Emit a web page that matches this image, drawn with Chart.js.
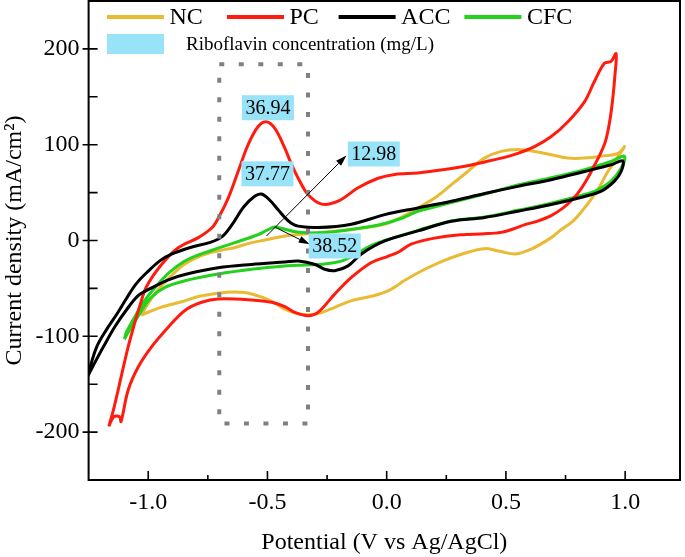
<!DOCTYPE html>
<html>
<head>
<meta charset="utf-8">
<title>CV curves</title>
<script src="https://cdn.jsdelivr.net/npm/chart.js@4.4.1/dist/chart.umd.min.js"></script>
<style>
  html, body { margin: 0; padding: 0; background: #fff; }
  #wrap { width: 685px; height: 557px; }
</style>
</head>
<body>
<div id="wrap"><canvas id="cv"></canvas></div>
<script>
// Cyclic voltammograms, potential (V vs Ag/AgCl) vs current density (mA/cm2).
// Each loop: anodic branch left->right, then the return branch right->left.

const seriesNames = ['NC', 'PC', 'ACC', 'CFC'];
const seriesColors = ['#E9BA33', '#FF1C0E', '#000000', '#24D11C'];

const ncV = [-1.03, -0.98, -0.94, -0.90, -0.85, -0.78, -0.71, -0.64, -0.57, -0.50,
  -0.43, -0.36, -0.29, -0.15, -0.01, 0.06, 0.13, 0.20, 0.27, 0.34,
  0.41, 0.48, 0.55, 0.62, 0.69, 0.76, 0.83, 0.90, 0.97, 0.997,
  0.955, 0.925, 0.89, 0.86, 0.82, 0.78, 0.73, 0.69, 0.61, 0.54,
  0.47, 0.41, 0.33, 0.24, 0.16, 0.08, 0.01, -0.06, -0.15, -0.22,
  -0.29, -0.36, -0.43, -0.47, -0.52, -0.59, -0.67, -0.78, -0.86, -0.95, -1.03];
const ncI = [-78, -58, -46, -36, -25, -16, -11, -7.5, -2.5, 1,
  4.5, 6.5, 8, 11.5, 17, 24, 34, 44, 58, 72,
  86, 93, 95, 93, 89.5, 86, 86, 88, 91, 98,
  82, 71, 55, 44, 31, 20, 11, 3, -8.5, -14,
  -11, -8.5, -13, -21, -30, -41, -52, -58, -63, -70,
  -76.5, -77, -71.5, -65, -59.5, -54.5, -54, -58, -64, -70, -78];

const pcV = [-1.165, -1.145, -1.126, -1.105, -1.084, -1.06, -1.035, -1.007, -0.944, -0.874,
  -0.79, -0.734, -0.707, -0.665, -0.623, -0.581, -0.539, -0.504, -0.469, -0.43,
  -0.40, -0.371, -0.33, -0.273, -0.204, -0.12, -0.036, 0.034, 0.131, 0.243,
  0.327, 0.411, 0.481, 0.55, 0.62, 0.69, 0.76, 0.83, 0.871, 0.913,
  0.941, 0.962,
  0.957, 0.948, 0.935, 0.918, 0.895, 0.87, 0.845, 0.815, 0.78, 0.74,
  0.69, 0.63, 0.58, 0.53, 0.48, 0.41, 0.31, 0.20, 0.10, 0.05,
  0.0, -0.064, -0.148, -0.218, -0.288, -0.33, -0.385, -0.427, -0.483, -0.567,
  -0.707, -0.776, -0.846, -0.916, -0.986, -1.042, -1.084, -1.114, -1.12, -1.145, -1.165];
const pcI = [-194, -176, -156, -133, -111, -89, -68, -48, -25, -7.5,
  3, 13, 23, 44, 72, 100, 119, 124, 117, 98,
  80, 65, 48, 38, 41, 55, 65, 69, 70.5, 74,
  77.5, 82, 86, 91, 98, 108.5, 124, 145, 166, 185,
  187, 195,
  172, 148, 124, 104, 90, 78, 66, 54, 43, 34,
  26, 20, 16.5, 12, 8.5, 7, 6, 2.5, -4, -12,
  -17, -23, -38.6, -56, -75, -78.5, -75, -69, -64.5, -62,
  -61, -64.5, -73, -90.5, -111, -132, -156, -189, -184, -184, -194];

const accV = [-1.28, -1.25, -1.216, -1.175, -1.132, -1.09, -1.05, -1.00, -0.95, -0.90,
  -0.82, -0.74, -0.69, -0.65, -0.60, -0.555, -0.525, -0.49, -0.455, -0.427,
  -0.40, -0.371, -0.288, -0.148, -0.008, 0.131, 0.271, 0.411, 0.55, 0.69,
  0.83, 0.941, 0.99,
  0.983, 0.955, 0.90, 0.83, 0.69, 0.55, 0.411, 0.271, 0.131, -0.008,
  -0.106, -0.162, -0.218, -0.26, -0.30, -0.37, -0.427, -0.567, -0.707, -0.846,
  -0.916, -0.986, -1.04, -1.09, -1.14, -1.188, -1.225, -1.26, -1.28];
const accI = [-158, -137, -111, -93, -77, -60, -45, -32, -21, -14,
  -7, -2, 4, 16, 35, 46, 48.5, 42, 32, 24,
  18, 15, 13.5, 17, 27, 34, 41, 49, 56.5, 63.5,
  72, 79, 83,
  72, 62, 51.5, 46, 37.6, 30.6, 24, 20, 10, -0.5,
  -14, -26.5, -31.5, -30, -25, -21.5, -22.5, -25, -28.5, -35.5,
  -41, -49.5, -57, -72, -90, -111, -128, -145, -158];

const cfcV = [-1.10, -1.09, -1.05, -1.007, -0.95, -0.91, -0.85, -0.80, -0.70, -0.61,
  -0.54, -0.50, -0.47, -0.43, -0.39, -0.33, -0.25, -0.15, -0.03, 0.06,
  0.131, 0.271, 0.411, 0.55, 0.69, 0.83, 0.941, 0.997,
  0.983, 0.941, 0.885, 0.83, 0.69, 0.55, 0.411, 0.271, 0.131, -0.008,
  -0.064, -0.148, -0.19, -0.26, -0.343, -0.427, -0.567, -0.707, -0.846, -0.93,
  -0.99, -1.035, -1.075, -1.10];
const cfcI = [-103, -95, -77, -60, -43, -33, -22, -16, -7.5, 0,
  6, 11, 14, 12, 9.5, 8, 8.5, 11.5, 16.5, 23,
  30.5, 39.5, 48.5, 58, 65.5, 74, 82.5, 88,
  75.5, 62, 53, 48, 39, 31.5, 24.5, 20.5, 10.5, 0,
  -5, -17, -21.5, -24.5, -25.5, -26.5, -30, -35, -42, -49,
  -60, -76, -92, -103];

const xTicks = [-1.0, -0.5, 0.0, 0.5, 1.0];
const xMinorTicks = [-0.75, -0.25, 0.25, 0.75];
const yTicks = [-200, -100, 0, 100, 200];
const yMinorTicks = [-150, -50, 50, 150];

// annotation: dashed box, peak labels and arrows
const boxV = [-0.702, -0.33];
const boxI = [184, -191];
const peakText = ['36.94', '37.77', '12.98', '38.52'];
const peakV = [-0.498, -0.500, -0.054, -0.218];
const peakI = [138.6, 69.6, 90.3, -5.7];
const arrowFromV = [-0.504, -0.469];
const arrowFromI = [4.7, 14];
const arrowToV = [-0.169, -0.323];
const arrowToI = [88.7, -4];

const serifFont = "'Liberation Serif', 'Times New Roman', Times, serif";
const labelBlue = '#98E3F8';

const seriesV = [ncV, pcV, accV, cfcV];
const seriesI = [ncI, pcI, accI, cfcI];
const drawOrder = [3, 1, 0, 2];

function toPoints(vs, is) {
    return vs.map((v, i) => ({ x: v, y: is[i] }));
}

function drawArrow(ctx, x1, y1, x2, y2) {
    const ang = Math.atan2(y2 - y1, x2 - x1);
    const len = 11, half = 3.5;
    const bx = x2 - len * Math.cos(ang), by = y2 - len * Math.sin(ang);
    ctx.beginPath();
    ctx.moveTo(x1, y1);
    ctx.lineTo(bx, by);
    ctx.stroke();
    ctx.beginPath();
    ctx.moveTo(x2, y2);
    ctx.lineTo(bx + half * Math.sin(ang), by - half * Math.cos(ang));
    ctx.lineTo(bx - half * Math.sin(ang), by + half * Math.cos(ang));
    ctx.closePath();
    ctx.fill();
}

const decorPlugin = {
    id: 'cvDecor',
    afterDatasetsDraw(chart) {
        const { ctx, chartArea: a, scales: { x, y } } = chart;
        ctx.save();

        // dashed box round the riboflavin peaks
        const bx0 = x.getPixelForValue(boxV[0]), bx1 = x.getPixelForValue(boxV[1]);
        const by0 = y.getPixelForValue(boxI[0]), by1 = y.getPixelForValue(boxI[1]);
        ctx.strokeStyle = '#808080';
        ctx.lineWidth = 4;
        ctx.setLineDash([5, 14.5]);
        ctx.strokeRect(bx0, by0, bx1 - bx0, by1 - by0);
        ctx.setLineDash([]);

        // arrows
        ctx.strokeStyle = '#000';
        ctx.fillStyle = '#000';
        ctx.lineWidth = 1;
        arrowFromV.forEach((v, i) => {
            drawArrow(ctx, x.getPixelForValue(v), y.getPixelForValue(arrowFromI[i]),
                x.getPixelForValue(arrowToV[i]), y.getPixelForValue(arrowToI[i]));
        });

        // concentration labels
        ctx.font = `20px ${serifFont}`;
        ctx.textAlign = 'center';
        ctx.textBaseline = 'middle';
        peakText.forEach((t, i) => {
            const cx = x.getPixelForValue(peakV[i]), cy = y.getPixelForValue(peakI[i]);
            const w = ctx.measureText(t).width + 7, h = 25;
            ctx.fillStyle = labelBlue;
            ctx.fillRect(cx - w / 2, cy - h / 2, w, h);
            ctx.fillStyle = '#000';
            ctx.fillText(t, cx, cy + 1);
        });

        // frame and inward ticks
        ctx.strokeStyle = '#000';
        ctx.lineWidth = 2;
        ctx.strokeRect(a.left, a.top, a.right - a.left, a.bottom - a.top);
        ctx.lineWidth = 1.6;
        ctx.beginPath();
        xTicks.forEach(v => {
            const px = x.getPixelForValue(v);
            ctx.moveTo(px, a.bottom); ctx.lineTo(px, a.bottom - 9);
        });
        xMinorTicks.forEach(v => {
            const px = x.getPixelForValue(v);
            ctx.moveTo(px, a.bottom); ctx.lineTo(px, a.bottom - 5);
        });
        yTicks.forEach(v => {
            const py = y.getPixelForValue(v);
            ctx.moveTo(a.left - 6, py); ctx.lineTo(a.left + 9, py);
        });
        yMinorTicks.forEach(v => {
            const py = y.getPixelForValue(v);
            ctx.moveTo(a.left, py); ctx.lineTo(a.left + 9, py);
        });
        ctx.stroke();

        // legend inside the plot
        const legX = [107, 227, 338.6, 464.4];
        ctx.font = `24px ${serifFont}`;
        ctx.textAlign = 'left';
        ctx.textBaseline = 'middle';
        seriesNames.forEach((name, k) => {
            ctx.strokeStyle = seriesColors[k];
            ctx.lineWidth = 4;
            ctx.beginPath();
            ctx.moveTo(legX[k], 17);
            ctx.lineTo(legX[k] + 57, 17);
            ctx.stroke();
            ctx.fillStyle = '#000';
            ctx.fillText(name, legX[k] + 62.5, 18);
        });
        ctx.fillStyle = labelBlue;
        ctx.fillRect(107, 34, 57, 20);
        ctx.fillStyle = '#000';
        ctx.font = `19px ${serifFont}`;
        ctx.fillText('Riboflavin concentration (mg/L)', 186, 45);

        ctx.restore();
    }
};

new Chart(document.getElementById('cv'), {
    type: 'scatter',
    data: {
        datasets: seriesNames.map((name, k) => ({
            label: name,
            data: toPoints(seriesV[k], seriesI[k]),
            showLine: true,
            borderColor: seriesColors[k],
            backgroundColor: seriesColors[k],
            borderWidth: 3,
            pointRadius: 0,
            tension: 0.35,
            fill: false,
            order: drawOrder[k]
        }))
    },
    options: {
        responsive: true,
        maintainAspectRatio: false,
        animation: false,
        devicePixelRatio: 1,
        layout: { padding: { top: 1, right: 5, bottom: 0, left: 0 } },
        plugins: {
            legend: { display: false },
            tooltip: { enabled: false }
        },
        scales: {
            x: {
                type: 'linear',
                min: -1.25,
                max: 1.23,
                afterBuildTicks: s => { s.ticks = xTicks.map(v => ({ value: v })); },
                afterFit: s => {
                    s.height = 77;
                    s.paddingLeft = 0;
                    s.paddingRight = 0;
                },
                grid: { display: false, drawTicks: false },
                border: { display: false },
                ticks: {
                    color: '#000',
                    font: { family: serifFont, size: 24 },
                    padding: 8,
                    autoSkip: false,
                    maxRotation: 0,
                    callback: v => Number(v).toFixed(1)
                },
                title: {
                    display: true,
                    text: 'Potential (V vs Ag/AgCl)',
                    color: '#000',
                    font: { family: serifFont, size: 24 },
                    padding: 0
                }
            },
            y: {
                type: 'linear',
                min: -250,
                max: 250,
                afterBuildTicks: s => { s.ticks = yTicks.map(v => ({ value: v })); },
                afterFit: s => {
                    s.width = 88.6;
                    s.paddingTop = 0;
                    s.paddingBottom = 0;
                },
                grid: { display: false, drawTicks: false },
                border: { display: false },
                ticks: {
                    color: '#000',
                    font: { family: serifFont, size: 24 },
                    padding: 9,
                    autoSkip: false,
                    callback: v => String(v)
                },
                title: {
                    display: true,
                    text: 'Current density (mA/cm²)',
                    color: '#000',
                    font: { family: serifFont, size: 24 },
                    padding: 0
                }
            }
        }
    },
    plugins: [decorPlugin]
});
</script>
</body>
</html>
